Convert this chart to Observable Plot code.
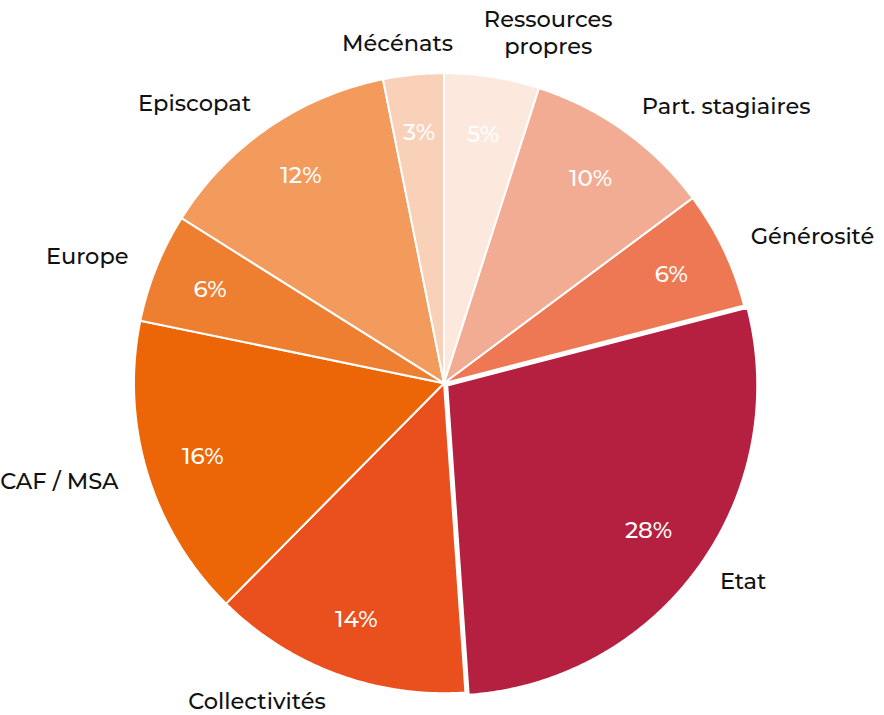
<!DOCTYPE html>
<html>
<head>
<meta charset="utf-8">
<script src="https://cdn.jsdelivr.net/npm/d3@7"></script>
<script src="https://cdn.jsdelivr.net/npm/@observablehq/plot@0.6"></script>
<style>
  body { margin: 0; background: #fff; }
  #chart svg { display: block; }
</style>
</head>
<body>
<div id="chart"></div>
<script>
// Data (clockwise from 12 o'clock); shares, labels as printed
const categories = ["Ressources propres", "Part. stagiaires", "Générosité", "Etat", "Collectivités", "CAF / MSA", "Europe", "Episcopat", "Mécénats"];
const displayLabels = ["Ressources\npropres", "Part. stagiaires", "Générosité", "Etat", "Collectivités", "CAF / MSA", "Europe", "Episcopat", "Mécénats"];
const values = [4.95, 9.85, 6.15, 27.9, 13.5, 15.8, 5.7, 12.9, 3.15];
const pctLabels = ["5%", "10%", "6%", "28%", "14%", "16%", "6%", "12%", "3%"];
const colors = ["#FCE8DC", "#F3AC94", "#EE7853", "#B52041", "#E9501E", "#EC6608", "#EF7F30", "#F29B5D", "#F9D1B8"];
const explodedCategory = "Etat";

// Geometry (pixel units)
const W = 884, H = 715;
const cx = 443.5, cy = 382.7, R = 310;

const total = d3.sum(values);
let cum = 0;
const slices = categories.map((c, i) => {
  const a0 = cum / total * 2 * Math.PI;
  cum += values[i];
  const a1 = cum / total * 2 * Math.PI;
  return {cat: c, label: displayLabels[i], pct: pctLabels[i], a0, a1, mid: (a0 + a1) / 2};
});

// Polygons for the slices
const polyPts = [];
for (const s of slices) {
  const off = s.cat === explodedCategory ? 4 : 0;
  const ox = off * Math.sin(s.mid), oy = -off * Math.cos(s.mid);
  polyPts.push({cat: s.cat, x: ox, y: oy});
  const n = Math.max(4, Math.ceil((s.a1 - s.a0) / (Math.PI / 360)));
  for (let k = 0; k <= n; k++) {
    const a = s.a0 + (s.a1 - s.a0) * k / n;
    polyPts.push({cat: s.cat, x: ox + R * Math.sin(a), y: oy - R * Math.cos(a)});
  }
  polyPts.push({cat: s.cat, x: ox, y: oy});
}

const labelR = R + 30;
const labelSize = 22.5;
const charW = 12.3;
const outer = slices.map(s => {
  const lines = s.label.split("\n");
  const w = d3.max(lines, l => l.length) * charW;
  return {
    ...s,
    nLines: lines.length,
    w,
    x: labelR * Math.sin(s.mid),
    y: -labelR * Math.cos(s.mid),
    side: Math.abs(Math.sin(s.mid)) < 0.2 ? "top" : (Math.sin(s.mid) > 0 ? "right" : "left")
  };
});
// simple horizontal collision resolution for centred labels at the top
const topLabels = outer.filter(d => d.side === "top").sort((a, b) => a.x - b.x);
for (let i = 1; i < topLabels.length; i++) {
  const prev = topLabels[i - 1], cur = topLabels[i];
  const need = (prev.x + prev.w / 2 + 40) - (cur.x - cur.w / 2);
  if (need > 0) { prev.x -= need * 0.2; cur.x += need * 0.8; }
}
for (const d of topLabels) d.y = d.y - (d.nLines - 1) * 12 - 3;

const inner = slices.map(s => ({...s, x: 252 * Math.sin(s.mid), y: -252 * Math.cos(s.mid)}));

const font = "Montserrat, 'Open Sans', 'Noto Sans', sans-serif";

const chart = Plot.plot({
  width: W,
  height: H,
  margin: 0,
  x: {domain: [-cx, W - cx], axis: null},
  y: {domain: [-cy, H - cy], reverse: true, axis: null},
  color: {domain: categories, range: colors},
  style: {fontFamily: font},
  marks: [
    Plot.line(polyPts, {x: "x", y: "y", z: "cat", fill: "cat", stroke: "white", strokeWidth: 2, strokeLinejoin: "round", curve: "linear"}),
    Plot.text(outer.filter(d => d.side === "right"), {x: "x", y: "y", text: "label", textAnchor: "start", fontSize: labelSize, fontWeight: 500, fill: "#111"}),
    Plot.text(outer.filter(d => d.side === "left"), {x: "x", y: "y", text: "label", textAnchor: "end", fontSize: labelSize, fontWeight: 500, fill: "#111"}),
    Plot.text(topLabels, {x: "x", y: "y", text: "label", textAnchor: "middle", fontSize: labelSize, fontWeight: 500, lineHeight: 1.2, fill: "#111"}),
    Plot.text(inner, {x: "x", y: "y", text: "pct", fill: "white", fontSize: 23, fontWeight: 500})
  ]
});
document.getElementById("chart").appendChild(chart);
</script>
</body>
</html>
